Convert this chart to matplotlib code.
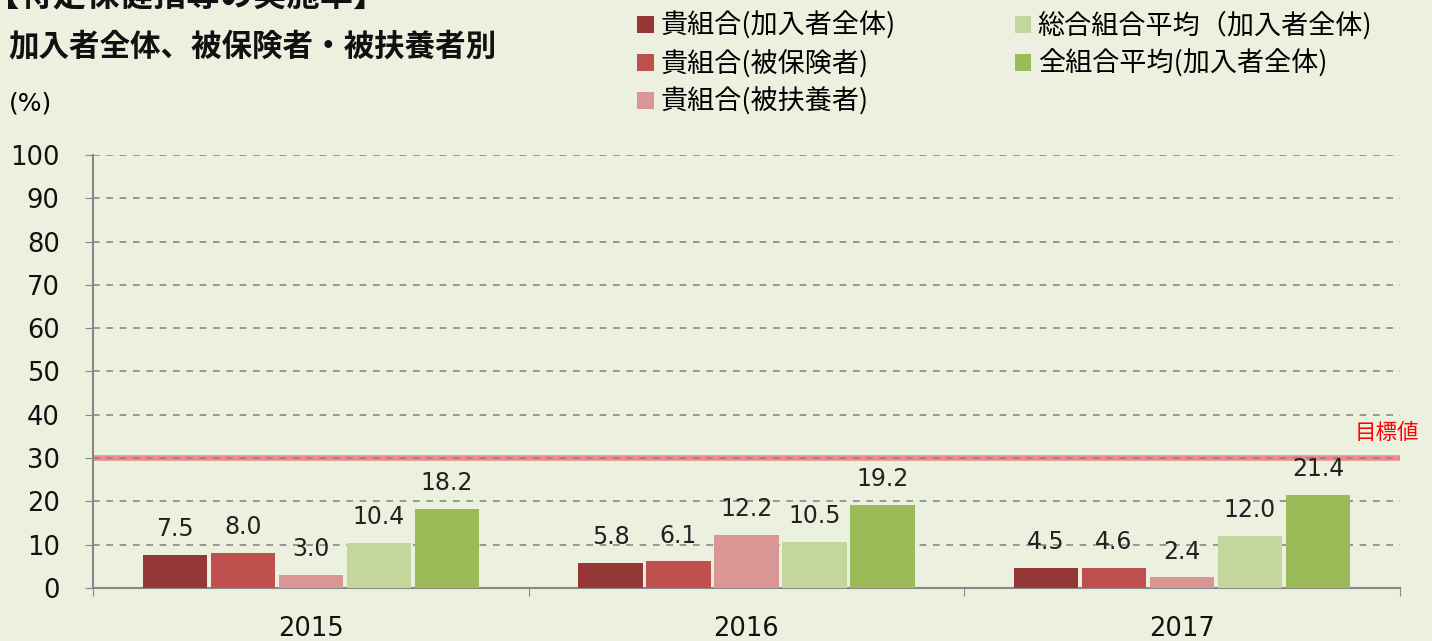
import numpy as np
import matplotlib
matplotlib.use("Agg")
from matplotlib import pyplot as plt
from matplotlib.patches import Patch

plt.rcParams['font.family'] = ['Noto Sans CJK JP', 'DejaVu Sans']

years = ['2015', '2016', '2017']
series_names = ['貴組合(加入者全体)', '貴組合(被保険者)', '貴組合(被扶養者)',
                '総合組合平均（加入者全体)', '全組合平均(加入者全体)']
values = [
    [7.5, 5.8, 4.5],
    [8.0, 6.1, 4.6],
    [3.0, 12.2, 2.4],
    [10.4, 10.5, 12.0],
    [18.2, 19.2, 21.4],
]
colors = ['#953735', '#C0504D', '#D99694', '#C3D69B', '#9BBB59']
target = 30
bg = '#EBF0DF'
num_font = 'DejaVu Sans'

fig = plt.figure(figsize=(14.32, 6.41), dpi=100, facecolor=bg)
ax = fig.add_axes([0.065, 0.083, 0.9125, 0.675], facecolor=bg)

x = np.arange(len(years))
width = 0.148
step = 0.156
for k, (vals, col) in enumerate(zip(values, colors)):
    pos = x + (k - 2) * step
    ax.bar(pos, vals, width=width, color=col, zorder=3)
    for px, v in zip(pos, vals):
        ax.annotate(f'{v:.1f}', (px, v), xytext=(0, 10), textcoords='offset points',
                    ha='center', va='bottom', fontsize=17, family=num_font, color='#222222')

ax.set_xlim(-0.5, 2.5)
ax.set_ylim(0, 100)
ax.set_yticks(np.arange(0, 101, 10))
ax.tick_params(axis='y', labelsize=18.5, length=6, color='#888888', pad=18)
ax.set_xticks([-0.5, 0.5, 1.5, 2.5])
ax.set_xticklabels([])
ax.set_xticks(x, minor=True)
ax.set_xticklabels(years, minor=True)
ax.tick_params(axis='x', which='major', length=6, color='#888888', direction='out')
ax.tick_params(axis='x', which='minor', length=0, labelsize=18.5, pad=20)
for lab in ax.get_yticklabels() + ax.get_xticklabels(minor=True):
    lab.set_family(num_font)
    lab.set_color('#111111')

for s in ['top', 'right']:
    ax.spines[s].set_visible(False)
for s in ['left', 'bottom']:
    ax.spines[s].set_color('#888888')
    ax.spines[s].set_linewidth(1.5)

# dashed grid
for yv in range(10, 101, 10):
    ax.axhline(yv, color='#888888', linestyle=(0, (4, 4)), linewidth=1.2, zorder=2)

# target line
ax.axhline(target, color='#F08A8A', linewidth=4, zorder=1.5)
ax.text(1.0145, target + 3.3, '目標値', transform=ax.get_yaxis_transform(),
        color='#FF0000', fontsize=15.5, ha='right', va='bottom')

fig.text(-0.01, 1.004, '【特定保健指導の実施率】', fontsize=24, fontweight='bold',
         ha='left', va='center', color='#111111')
fig.text(0.006, 0.928, '加入者全体、被保険者・被扶養者別', fontsize=22, fontweight='bold',
         ha='left', va='center', color='#111111')
fig.text(0.006, 0.838, '(%)', fontsize=18, ha='left', va='center', family=num_font)

handles = [Patch(facecolor=c) for c in colors]
fig.legend(handles, series_names, ncol=2, loc='upper left', bbox_to_anchor=(0.428, 1.02),
           frameon=False, fontsize=19.5, handlelength=0.6, handleheight=0.6,
           handletextpad=0.25, columnspacing=4.4, labelspacing=0.36)

fig.savefig('out.png', dpi=100, facecolor=bg)
